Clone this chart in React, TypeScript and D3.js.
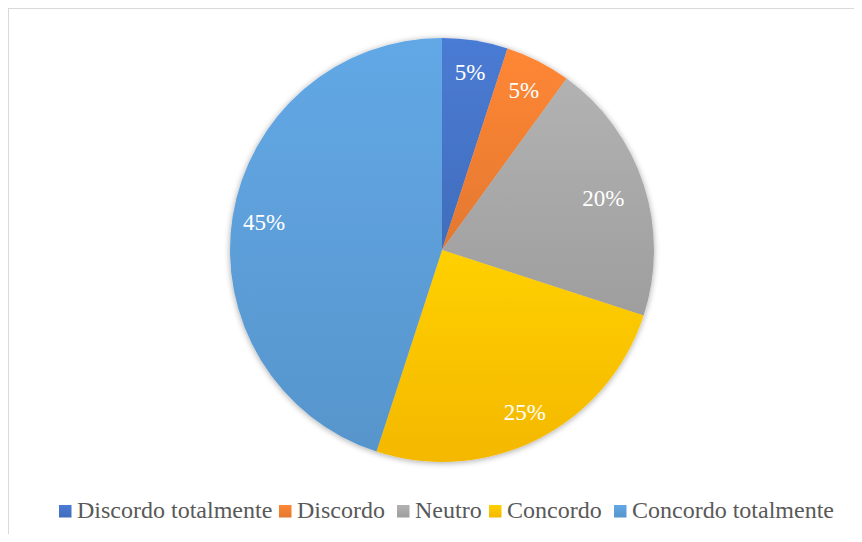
import React from "react";
import * as d3 from "d3";

const categories = ["Discordo totalmente", "Discordo", "Neutro", "Concordo", "Concordo totalmente"];
const values = [5, 5, 20, 25, 45];
const labels = ["5%", "5%", "20%", "25%", "45%"];
const colors = ["#4472C4", "#ED7D31", "#A5A5A5", "#FFC000", "#5B9BD5"];
const labelRadius = [0.85, 0.85, 0.8, 0.86, 0.85];
const legendX = [59, 279, 397, 489, 614];

const FONT = "Liberation Serif";

export default function App() {
  const W = 862, H = 542;
  const cx = 442, cy = 250, r = 212;
  const pie = d3.pie<number>().sort(null).value((d) => d);
  const arcs = pie(values);
  const arc = d3.arc<d3.PieArcDatum<number>>().innerRadius(0).outerRadius(r);
  const light = (c: string, k: number) => d3.color(c)!.brighter(k).formatHex();
  const dark = (c: string, k: number) => d3.color(c)!.darker(k).formatHex();
  return (
    <div style={{ fontFamily: FONT }}>
      <svg width={W} height={H} fontFamily={FONT} style={{ display: "block", margin: "-8px", fontFamily: FONT }}>
        <defs>
          {colors.map((c, i) => (
            <linearGradient key={i} id={`g${i}`} x1="0" y1="0" x2="0" y2="1">
              <stop offset="0" stopColor={light(c, 0.22)} />
              <stop offset="1" stopColor={dark(c, 0.12)} />
            </linearGradient>
          ))}
          <filter id="sh" x="-10%" y="-10%" width="120%" height="120%">
            <feGaussianBlur in="SourceAlpha" stdDeviation="3" />
            <feOffset dx="0" dy="1" />
            <feComponentTransfer><feFuncA type="linear" slope="0.35" /></feComponentTransfer>
            <feMerge><feMergeNode /><feMergeNode in="SourceGraphic" /></feMerge>
          </filter>
        </defs>
        <rect x={0} y={0} width={W} height={H} fill="#fff" />
        <rect x={8.5} y={8.5} width={W + 10} height={H + 10} fill="none" stroke="#d9d9d9" strokeWidth={1} />
        <g transform={`translate(${cx},${cy})`}>
          <g filter="url(#sh)">
            {arcs.map((a, i) => (
              <path key={i} d={arc(a) || ""} fill={`url(#g${i})`} />
            ))}
          </g>
          {arcs.map((a, i) => {
            const la = d3.arc<d3.PieArcDatum<number>>().innerRadius(r * labelRadius[i]).outerRadius(r * labelRadius[i]);
            const [x, y] = la.centroid(a);
            return (
              <text key={i} x={x} y={y} dy="0.35em" textAnchor="middle" fill="#fff" fontFamily={FONT} style={{ fontFamily: FONT, fontSize: "23px" }}>
                {labels[i]}
              </text>
            );
          })}
        </g>
        <g>
          {categories.map((c, i) => (
            <g key={i}>
              <rect x={legendX[i]} y={505} width={12.5} height={12.5} fill={`url(#g${i})`} />
              <text x={legendX[i] + 18} y={518} fill="#595959" fontFamily={FONT} style={{ fontFamily: FONT, fontSize: "24px" }}>{c}</text>
            </g>
          ))}
        </g>
      </svg>
    </div>
  );
}
